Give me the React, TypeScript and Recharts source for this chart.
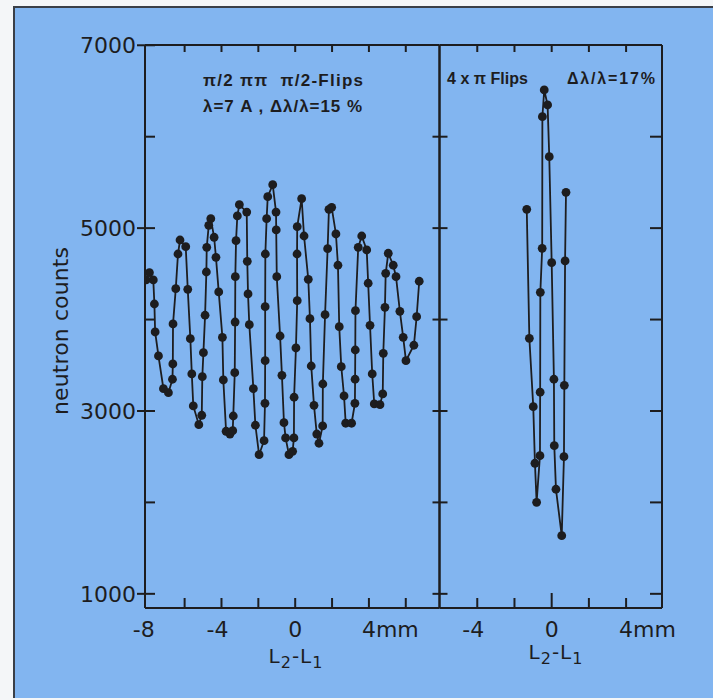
import React from 'react';
import { LineChart, Line, XAxis, YAxis } from 'recharts';

// ---- data ----
const leftPosition = [
  -8.09, -7.91, -7.70, -7.64, -7.60, -7.42, -7.15, -6.88, -6.66, -6.64,
  -6.63, -6.48, -6.36, -6.25, -5.94, -5.83, -5.69, -5.61, -5.53, -5.23,
  -5.07, -5.04, -4.98, -4.89, -4.82, -4.80, -4.69, -4.58, -4.40, -4.30,
  -4.15, -3.95, -3.90, -3.75, -3.54, -3.39, -3.36, -3.28, -3.26, -3.25,
  -3.21, -3.14, -3.03, -2.63, -2.60, -2.56, -2.49, -2.27, -2.16, -1.96,
  -1.69, -1.64, -1.63, -1.63, -1.62, -1.55, -1.49, -1.22, -1.04, -1.03,
  -1.00, -0.82, -0.72, -0.61, -0.52, -0.34, -0.14, -0.07, -0.06, 0.04,
  0.11, 0.10, 0.11, 0.35, 0.48, 0.71, 0.80, 0.87, 1.02, 1.17,
  1.29, 1.49, 1.50, 1.62, 1.76, 1.83, 1.98, 2.21, 2.32, 2.39,
  2.50, 2.65, 2.74, 3.06, 3.24, 3.25, 3.26, 3.27, 3.42, 3.61,
  3.88, 3.96, 4.06, 4.18, 4.29, 4.60, 4.75, 4.78, 4.87, 4.91,
  5.05, 5.32, 5.47, 5.68, 5.86, 6.01, 6.44, 6.59, 6.73,
];
const leftCounts = [
  4433, 4513, 4433, 4170, 3864, 3602, 3244, 3200, 3347, 3514,
  3952, 4338, 4717, 4870, 4797, 4331, 3791, 3405, 3055, 2850,
  2953, 3375, 3638, 4047, 4520, 4790, 5031, 5103, 4900, 4681,
  4302, 3806, 3339, 2778, 2748, 2785, 2945, 3419, 3973, 4469,
  4863, 5133, 5256, 5176, 4637, 4280, 3944, 3244, 2844, 2522,
  2675, 3084, 3550, 4141, 4717, 5103, 5344, 5475, 5176, 4980,
  4469, 3820, 3390, 2872, 2705, 2522, 2559, 2705, 3150, 3689,
  4206, 4717, 5016, 5322, 4914, 4440, 4010, 3492, 3062, 2748,
  2647, 2836, 3295, 4053, 4775, 5206, 5228, 4936, 4594, 3922,
  3485, 3164, 2866, 2866, 3084, 3347, 3667, 4097, 4790, 4914,
  4761, 4397, 3937, 3405, 3077, 3069, 3186, 3631, 4134, 4506,
  4725, 4594, 4469, 4090, 3806, 3550, 3719, 4031, 4419,
];
const rightPosition = [
  -1.34, -1.20, -0.99, -0.90, -0.81, -0.63, -0.62, -0.61, -0.51, -0.50, -0.40,
  -0.22, -0.13, 0.00, 0.12, 0.14, 0.23, 0.54, 0.66, 0.68, 0.72, 0.77,
];
const rightCounts = [
  5206, 3795, 3047, 2428, 2001, 2511, 3205, 4298, 4779, 6219, 6511,
  6347, 5781, 4622, 3347, 2621, 2144, 1636, 2500, 3281, 4641, 5392,
];

const leftXTicks = [-8, -6, -4, -2, 0, 2, 4, 6];
const rightXTicks = [-4, -2, 0, 2, 4];
const yTicks = [1000, 2000, 3000, 4000, 5000, 6000, 7000];
const yTickLabels = [1000, 3000, 5000, 7000];
const leftXLabels: Record<string, string> = { '-8': '-8', '-4': '-4', '0': '0', '4': '4mm' };
const rightXLabels: Record<string, string> = { '-4': '-4', '0': '0', '4': '4mm' };

const leftDomain = [-8.15, 7.83];
const rightDomain = [-6.03, 5.93];
const yDomain = [845, 7003];

const leftData = leftPosition.map((x, i) => ({ x, counts: leftCounts[i] }));
const rightData = rightPosition.map((x, i) => ({ x, counts: rightCounts[i] }));

// ---- styling ----
const INK = '#1d1d1f';
const BG = '#82b5f0';
const FONT = '"DejaVu Sans", sans-serif';
const ANNO_FONT = '"Liberation Sans", Arial, sans-serif';

function xLabel(text: string, x: number, y: number) {
  let anchor: 'start' | 'middle' | 'end' = 'middle';
  let px = x;
  if (text.startsWith('-')) { anchor = 'end'; px = x + 7; }
  else if (text.endsWith('mm')) { anchor = 'start'; px = x - 7; }
  return (
    <text x={px} y={y + 29} textAnchor={anchor} fontSize={22} fontFamily={FONT} fill={INK}>
      {text}
    </text>
  );
}

const makeBottomTick = (labels: Record<string, string>, tallZero: boolean, skip: number[]) => (props: any) => {
  const { x, y, payload } = props;
  const v = payload.value;
  const label = labels[String(v)];
  const len = tallZero && v === 0 ? 15 : 10;
  return (
    <g>
      {!skip.includes(v) && <line x1={x} x2={x} y1={y} y2={y - len} stroke={INK} strokeWidth={2} />}
      {label && xLabel(label, x, y)}
    </g>
  );
};

const makeTopTick = (skip: number[]) => (props: any) => {
  const { x, y, payload } = props;
  if (skip.includes(payload.value)) return <g />;
  return <line x1={x} x2={x} y1={y} y2={y + 7} stroke={INK} strokeWidth={2} />;
};

const LeftYTick = (props: any) => {
  const { x, y, payload } = props;
  const v = payload.value;
  const labeled = yTickLabels.includes(v);
  return (
    <g>
      <line x1={labeled ? x - 8 : x} x2={x + 10} y1={y} y2={y} stroke={INK} strokeWidth={2} />
      {labeled && (
        <text x={x - 9} y={y + 8} textAnchor="end" fontSize={22} fontFamily={FONT} fill={INK}>
          {v}
        </text>
      )}
    </g>
  );
};

const DividerTick = (props: any) => {
  const { x, y, payload } = props;
  if (payload.value === 7000) return <g />;
  return <line x1={x - 7} x2={x + 8} y1={y} y2={y} stroke={INK} strokeWidth={2} />;
};

const RightYTick = (props: any) => {
  const { x, y, payload } = props;
  if (payload.value === 7000) return <g />;
  return <line x1={x - 12} x2={x} y1={y} y2={y} stroke={INK} strokeWidth={2} />;
};

const axisLine = { stroke: INK, strokeWidth: 2 };
const dotStyle = { r: 4.4, fill: INK, stroke: 'none' };

export default function App() {
  return (
    <div style={{ position: 'absolute', left: 0, top: 0, width: 713, height: 700, background: '#f4f6f8', overflow: 'hidden' }}>
      <style>{'body{margin:0}'}</style>
      <div
        style={{
          position: 'absolute', left: 13, top: 6, width: 700, height: 692,
          background: BG, borderLeft: `2px solid #3a3f48`, borderTop: `2px solid #3a3f48`,
          boxSizing: 'border-box',
        }}
      />
      <div style={{ position: 'absolute', left: 0, top: 0 }}>
        <LineChart width={713} height={700} data={leftData} margin={{ top: 44, bottom: 91, left: 144, right: 272.5 }}>
          <XAxis xAxisId="b" type="number" dataKey="x" domain={leftDomain} allowDataOverflow ticks={leftXTicks}
            interval={0} height={1} tickSize={0} tickMargin={0} tickLine={false} axisLine={axisLine}
            tick={makeBottomTick(leftXLabels, false, [-8])} />
          <XAxis xAxisId="t" orientation="top" type="number" dataKey="x" domain={leftDomain} allowDataOverflow ticks={leftXTicks}
            interval={0} height={1} tickSize={0} tickMargin={0} tickLine={false} axisLine={axisLine}
            tick={makeTopTick([-8])} />
          <YAxis yAxisId="l" type="number" domain={yDomain} allowDataOverflow ticks={yTicks} interval={0}
            width={1} tickSize={0} tickMargin={0} tickLine={false} axisLine={axisLine} tick={LeftYTick} />
          <YAxis yAxisId="r" orientation="right" type="number" domain={yDomain} allowDataOverflow ticks={yTicks} interval={0}
            width={1} tickSize={0} tickMargin={0} tickLine={false} axisLine={axisLine} tick={DividerTick} />
          <Line xAxisId="b" yAxisId="l" type="linear" dataKey="counts" stroke={INK} strokeWidth={1.8}
            dot={dotStyle} activeDot={false} isAnimationActive={false} />
        </LineChart>
      </div>
      <div style={{ position: 'absolute', left: 0, top: 0 }}>
        <LineChart width={713} height={700} data={rightData} margin={{ top: 44, bottom: 91, left: 438.5, right: 50 }}>
          <XAxis xAxisId="b" type="number" dataKey="x" domain={rightDomain} allowDataOverflow ticks={rightXTicks}
            interval={0} height={1} tickSize={0} tickMargin={0} tickLine={false} axisLine={axisLine}
            tick={makeBottomTick(rightXLabels, true, [])} />
          <XAxis xAxisId="t" orientation="top" type="number" dataKey="x" domain={rightDomain} allowDataOverflow ticks={rightXTicks}
            interval={0} height={1} tickSize={0} tickMargin={0} tickLine={false} axisLine={axisLine}
            tick={makeTopTick([])} />
          <YAxis yAxisId="l" type="number" domain={yDomain} allowDataOverflow ticks={yTicks} interval={0}
            width={1} tickSize={0} tickMargin={0} tickLine={false} axisLine={axisLine} tick={false} />
          <YAxis yAxisId="r" orientation="right" type="number" domain={yDomain} allowDataOverflow ticks={yTicks} interval={0}
            width={1} tickSize={0} tickMargin={0} tickLine={false} axisLine={axisLine} tick={RightYTick} />
          <Line xAxisId="b" yAxisId="l" type="linear" dataKey="counts" stroke={INK} strokeWidth={1.8}
            dot={dotStyle} activeDot={false} isAnimationActive={false} />
        </LineChart>
      </div>
      <svg width={713} height={700} style={{ position: 'absolute', left: 0, top: 0, pointerEvents: 'none' }}>
        <text transform="translate(68,331) rotate(-90)" textAnchor="middle" fontSize={22} fontFamily={FONT} fill={INK}
          textLength={168} lengthAdjust="spacing">
          neutron counts
        </text>
        <text x={296} y={663} textAnchor="middle" fontSize={20} fontFamily={FONT} fill={INK} letterSpacing={1}>
          L<tspan fontSize={16} dy={5}>2</tspan><tspan dy={-5}>-L</tspan><tspan fontSize={16} dy={5}>1</tspan>
        </text>
        <text x={556} y={659} textAnchor="middle" fontSize={20} fontFamily={FONT} fill={INK} letterSpacing={1}>
          L<tspan fontSize={16} dy={5}>2</tspan><tspan dy={-5}>-L</tspan><tspan fontSize={16} dy={5}>1</tspan>
        </text>
        <text x={203} y={86} fontSize={17} fontWeight="bold" fontFamily={ANNO_FONT} fill={INK}
          textLength={160} lengthAdjust="spacing" style={{ whiteSpace: 'pre' }}>
          {'π/2 ππ  π/2-Flips'}
        </text>
        <text x={203} y={112} fontSize={17} fontWeight="bold" fontFamily={ANNO_FONT} fill={INK}
          textLength={159} lengthAdjust="spacing">
          λ=7 A , Δλ/λ=15 %
        </text>
        <text x={447} y={84} fontSize={16} fontWeight="bold" fontFamily={ANNO_FONT} fill={INK}
          textLength={81} lengthAdjust="spacing">
          4 x π Flips
        </text>
        <text x={567} y={84} fontSize={16} fontWeight="bold" fontFamily={ANNO_FONT} fill={INK}
          textLength={88} lengthAdjust="spacing">
          Δλ/λ=17%
        </text>
      </svg>
    </div>
  );
}
